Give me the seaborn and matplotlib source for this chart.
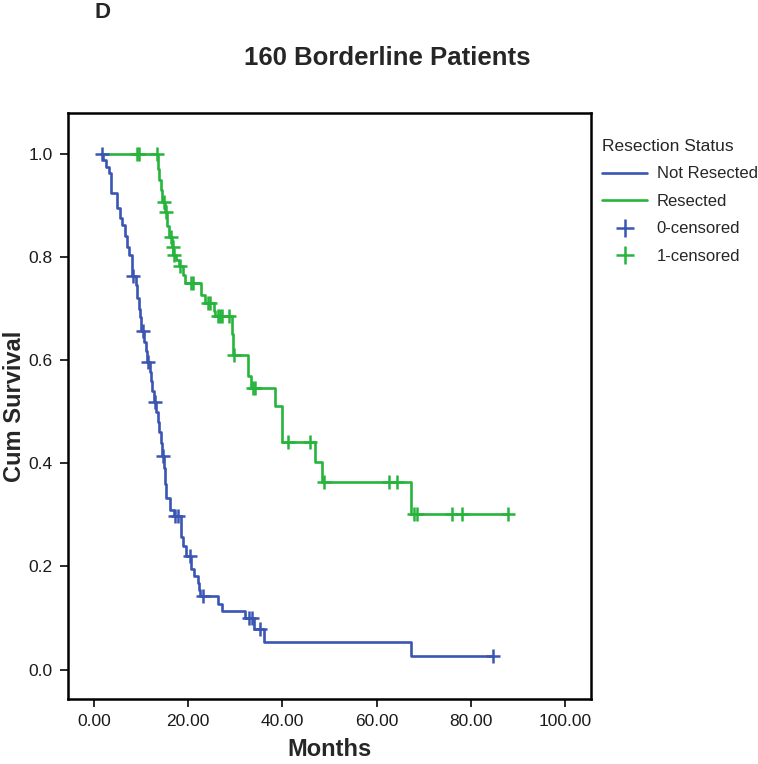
import numpy as np
import pandas as pd
import matplotlib
matplotlib.use("Agg")
import matplotlib.pyplot as plt
from matplotlib.lines import Line2D
import seaborn as sns

# ---- data ----
groups = ["Not Resected", "Resected"]

nr_times = [1.8, 2.0, 2.6, 3.3, 3.7, 5.0, 5.5, 6.0, 6.5, 7.0, 7.5, 8.0, 8.1, 8.9, 9.2, 9.5, 9.8,
            10.1, 10.7, 11.0, 11.3, 11.8, 12.1, 12.4, 12.7, 13.2, 13.5, 13.8, 14.2, 14.5,
            14.9, 15.1, 15.3, 16.2, 16.9, 18.4, 19.0, 19.6, 20.6, 21.3, 22.0, 22.3, 22.6,
            26.4, 27.1, 32.1, 33.9, 36.1, 67.4]
nr_surv = [1.0, 0.988, 0.975, 0.962, 0.925, 0.895, 0.875, 0.862, 0.84, 0.82, 0.804, 0.787, 0.764,
           0.745, 0.72, 0.70, 0.684, 0.656, 0.635, 0.617, 0.597, 0.578, 0.56, 0.54, 0.518,
           0.50, 0.48, 0.46, 0.44, 0.415, 0.39, 0.36, 0.333, 0.31, 0.297, 0.258, 0.24, 0.221,
           0.196, 0.181, 0.168, 0.155, 0.142, 0.128, 0.114, 0.100, 0.079, 0.053, 0.026]
nr_censored = [1.8, 8.4, 10.4, 11.5, 12.9, 14.7, 17.2, 17.8, 20.3, 23.1, 33.0, 33.5, 35.2, 84.8]

r_times = [1.6, 13.6, 13.9, 14.2, 14.5, 15.0, 15.6, 16.0, 16.6, 16.85, 17.4, 18.0, 18.9, 19.4,
           22.7, 23.5, 25.5, 25.8, 29.3, 29.6, 32.6, 33.3, 38.4, 39.9, 47.0, 48.5, 67.4]
r_surv = [1.0, 0.97, 0.95, 0.93, 0.906, 0.888, 0.86, 0.839, 0.82, 0.804, 0.795, 0.783, 0.765, 0.749,
          0.727, 0.71, 0.696, 0.686, 0.65, 0.61, 0.57, 0.546, 0.512, 0.442, 0.402, 0.363, 0.302]
r_censored = [9.1, 9.6, 13.4, 14.8, 15.2, 16.4, 16.8, 17.0, 18.2, 20.6, 21.0, 24.3, 24.7, 26.4,
              26.8, 27.2, 28.6, 29.8, 33.8, 34.2, 41.2, 45.9, 48.9, 62.7, 64.4, 67.9, 68.6,
              75.9, 78.1, 87.8]

x_ticks = [0, 20, 40, 60, 80, 100]
y_ticks = [0.0, 0.2, 0.4, 0.6, 0.8, 1.0]

colors = {"Not Resected": "#3a55b3", "Resected": "#27b43c"}

# ---- build tables ----
def surv_at(times, surv, t):
    idx = np.searchsorted(times, t, side="right") - 1
    return surv[max(idx, 0)]

line_rows = []
cens_rows = []
for g, tt, ss, cc in [("Not Resected", nr_times, nr_surv, nr_censored),
                      ("Resected", r_times, r_surv, r_censored)]:
    ts = list(tt) + [max(cc)]
    sv = list(ss) + [ss[-1]]
    for t, s in zip(ts, sv):
        line_rows.append({"group": g, "Months": t, "Cum Survival": s})
    for c in cc:
        cens_rows.append({"group": g, "Months": c, "Cum Survival": surv_at(tt, ss, c)})
lines_df = pd.DataFrame(line_rows)
cens_df = pd.DataFrame(cens_rows)

# ---- plot ----
sns.set_style("ticks")
plt.rcParams["font.family"] = ["Liberation Sans", "DejaVu Sans"]

fig = plt.figure(figsize=(7.58, 7.64), dpi=100)
ax = fig.add_axes([0.0897, 0.085, 0.690, 0.767])

for g in groups:
    sub = lines_df[lines_df["group"] == g]
    sns.lineplot(data=sub, x="Months", y="Cum Survival", ax=ax, color=colors[g],
                 drawstyle="steps-post", sort=False, estimator=None, linewidth=1.9,
                 legend=False)
    csub = cens_df[cens_df["group"] == g]
    sns.scatterplot(data=csub, x="Months", y="Cum Survival", ax=ax, color=colors[g],
                    marker="+", s=100, linewidth=1.8, legend=False, zorder=3)

ax.set_xlim(-5.5, 105.5)
ax.set_ylim(-0.057, 1.079)
ax.set_xticks(x_ticks)
ax.set_xticklabels([f"{v:.2f}" for v in x_ticks])
ax.set_yticks(y_ticks)
ax.set_yticklabels([f"{v:.1f}" for v in y_ticks])
ax.tick_params(axis="both", direction="out", length=6, width=1.3, labelsize=12.5,
               colors="#1a1a1a", pad=5)
for sp in ax.spines.values():
    sp.set_visible(True)
    sp.set_linewidth(1.8)
    sp.set_color("black")

ax.set_xlabel("Months", fontsize=17, fontweight="bold", labelpad=6)
ax.set_ylabel("Cum Survival", fontsize=17, fontweight="bold", labelpad=2)

fig.text(0.511, 0.924, "160 Borderline Patients", fontsize=18.5, fontweight="bold",
         ha="center", va="center")
fig.text(0.125, 0.984, "D", fontsize=16, fontweight="bold", ha="left", va="center")

handles = [
    Line2D([], [], color=colors["Not Resected"], lw=1.9),
    Line2D([], [], color=colors["Resected"], lw=1.9),
    Line2D([], [], color=colors["Not Resected"], lw=0, marker="+", markersize=13, markeredgewidth=1.8),
    Line2D([], [], color=colors["Resected"], lw=0, marker="+", markersize=13, markeredgewidth=1.8),
]
labels = ["Not Resected", "Resected", "0-censored", "1-censored"]
leg = fig.legend(handles, labels, title="Resection Status", loc="upper left",
                 bbox_to_anchor=(0.786, 0.827), frameon=False, fontsize=12,
                 title_fontsize=12.5, handlelength=2.7, handletextpad=0.55,
                 labelspacing=0.75, borderaxespad=0)
leg._legend_box.align = "left"

fig.savefig("out.png", dpi=100)
